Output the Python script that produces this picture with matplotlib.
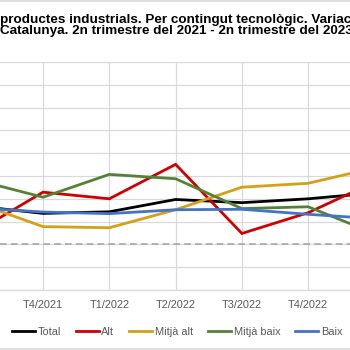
# -*- coding: utf-8 -*-
# Variació interanual per contingut tecnològic (retall del gràfic)

import matplotlib
matplotlib.use("Agg")
import matplotlib.pyplot as plt
from matplotlib.lines import Line2D

plt.rcParams['font.family'] = ['Liberation Sans', 'DejaVu Sans']

# dades
trimestres = ["T3/2021", "T4/2021", "T1/2022", "T2/2022", "T3/2022", "T4/2022", "T1/2023"]
total = [16.8, 13.6, 14.3, 19.7, 18.3, 20.0, 22.6]
alt = [5.7, 22.9, 20.0, 35.1, 4.8, 13.9, 27.4]
mitja_alt = [18.2, 7.8, 7.3, 15.2, 25.1, 26.8, 33.6]
mitja_baix = [28.2, 20.7, 30.7, 28.8, 15.7, 16.5, 4.8]
baix = [16.0, 14.2, 13.5, 15.2, 15.4, 13.2, 11.3]

series = [
    ("Total", total, "#000000"),
    ("Alt", alt, "#d00000"),
    ("Mitjà alt", mitja_alt, "#d4a017"),
    ("Mitjà baix", mitja_baix, "#548235"),
    ("Baix", baix, "#4472c4"),
]

fig = plt.figure(figsize=(3.5, 3.5), dpi=100)
ax = fig.add_axes([0.0, 1 - 290 / 350, 1.0, (290 - 62) / 350])

x = list(range(len(trimestres)))
for nom, valors, color in series:
    ax.plot(x, valors, color=color, lw=2.0, label=nom, solid_joinstyle="miter")

ax.axhline(0, color="#a6a6a6", lw=1.2, ls=(0, (4, 2.5)), zorder=1)

ax.set_yticks(range(-20, 81, 10))
ax.set_xticks(x)
ax.set_xticklabels(trimestres, fontsize=7.9, color="#595959")
# límits després dels ticks perquè no s'amplien
ax.set_xlim(1 - 43 / 66.3, 1 + 307 / 66.3)
ax.set_ylim(-20, 80)
ax.tick_params(axis="x", length=0, pad=7)
ax.tick_params(axis="y", length=0, labelleft=False)
ax.grid(True, color="#d9d9d9", lw=0.9)
ax.set_axisbelow(True)
for s in ["left", "right", "top"]:
    ax.spines[s].set_visible(False)
ax.spines["bottom"].set_color("#d9d9d9")
ax.spines["bottom"].set_linewidth(0.9)

# títol (retallat a les vores), dues línies en un sol text
titol = ("productes industrials. Per contingut tecnològic. Variació\n"
         "Catalunya. 2n trimestre del 2021 - 2n trimestre del 2023")
fig.text(0.0, 1 - 14.5 / 350, titol, fontsize=9.7, fontweight="bold",
         ha="left", va="top", multialignment="left", linespacing=0.84)

# vora del gràfic
fig.add_artist(Line2D([0, 1], [0.998, 0.998], color="#d9d9d9", lw=1.2, transform=fig.transFigure))
fig.add_artist(Line2D([0, 1], [1 - 348.5 / 350] * 2, color="#d9d9d9", lw=1.2, transform=fig.transFigure))

leg = fig.legend(loc="center", bbox_to_anchor=(177 / 350, 1 - 332 / 350), ncol=5,
                 frameon=False, fontsize=7.9, handlelength=2.1, handletextpad=0.25,
                 columnspacing=1.35, borderaxespad=0)
for t in leg.get_texts():
    t.set_color("#595959")

fig.savefig("out.png", dpi=100)
